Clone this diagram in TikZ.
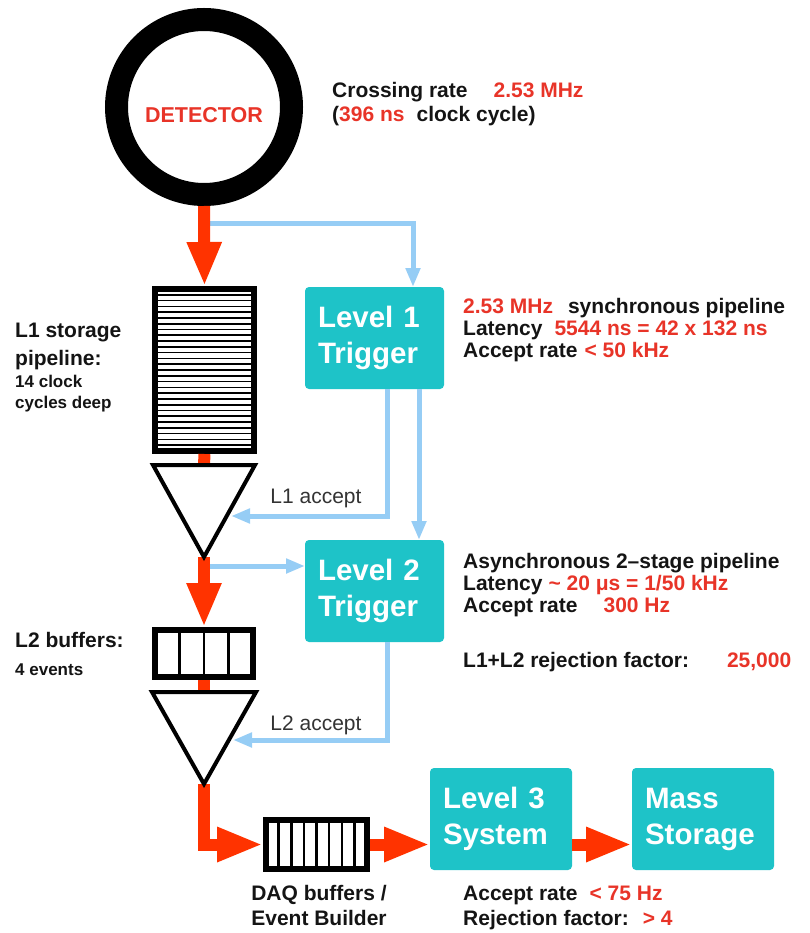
\documentclass[tikz,border=0pt]{standalone}
\usepackage{fontspec}
\setmainfont{Liberation Sans}
\usetikzlibrary{arrows.meta,calc}
\definecolor{arrowred}{RGB}{255,51,0}
\definecolor{txtred}{RGB}{232,52,40}
\definecolor{trigteal}{RGB}{30,195,200}
\definecolor{sigblue}{RGB}{150,205,245}
\definecolor{ink}{RGB}{20,20,20}
\newcommand\rd[1]{\textcolor{txtred}{#1}}

\begin{document}
\begin{tikzpicture}[x=1pt,y=-1pt,
  redline/.style={draw=arrowred,line width=12pt},
  redarrow/.style={redline,-{Triangle[width=32pt,length=44pt]}},
  redarrowh/.style={redline,-{Triangle[width=32pt,length=46pt]}},
  bluearrow/.style={draw=sigblue,line width=5pt,-{Triangle[width=14pt,length=19pt]}},
  trig/.style={fill=trigteal,rounded corners=4pt,text=white,inner xsep=13pt,inner ysep=0pt,
    outer sep=0pt,align=left,font=\bfseries\fontsize{29.5}{36}\selectfont,anchor=north west},
  bufbox/.style={draw=black,line width=6pt,inner sep=0pt,fill=white},
  cell/.style={draw=black,line width=2.5pt},
  slot/.style={draw=black,line width=1.6pt},
  funnel/.style={draw=black,line width=4pt,line join=miter,fill=white},
  info/.style={font=\bfseries\fontsize{21}{23}\selectfont,text=ink,anchor=base west,inner sep=0pt},
  small/.style={font=\bfseries\fontsize{17}{21}\selectfont,text=ink,anchor=base west,inner sep=0pt},
  acc/.style={font=\fontsize{21}{23}\selectfont,text=black!80,anchor=base,inner sep=0pt},
]
\useasboundingbox (0,0) rectangle (809,933);

% ---- detector ring ----
\node[circle,draw=black,line width=23pt,minimum size=175pt,inner sep=0pt] (det) at (204,107) {};
\node[font=\bfseries\fontsize{21.5}{24}\selectfont,text=txtred,inner sep=0pt] (detlbl) at (204,115) {DETECTOR};

% ---- storage elements ----
\node[bufbox,minimum width=99pt,minimum height=162pt] (pipe) at (204.5,370) {};
\foreach \i in {1,...,27}
  \draw[slot] (155,{289+\i*162/28}) -- (254,{289+\i*162/28});

\node[bufbox,minimum width=98pt,minimum height=47pt] (l2buf) at (204,653.5) {};
\foreach \i in {1,2,3}
  \draw[cell] ({155+\i*24.5},630) -- ({155+\i*24.5},677);

\node[bufbox,minimum width=101pt,minimum height=49pt] (daq) at (316.5,844.5) {};
\foreach \i in {1,...,7}
  \draw[cell] ({266+\i*101/8},820) -- ({266+\i*101/8},869);

% ---- trigger and processing boxes ----
\node[trig,text width=113pt,minimum height=102pt] (l1) at (305,287) {Level 1\\Trigger};
\node[trig,text width=113pt,minimum height=102pt] (l2) at (305,540) {Level 2\\Trigger};
\node[trig,text width=116pt,minimum height=102pt] (l3) at (430,768) {Level 3\\System};
\node[trig,text width=116pt,minimum height=102pt] (ms) at (632,768) {Mass\\Storage};

% ---- trigger signal paths ----
\coordinate (split1) at (204,224);
\coordinate (split2) at (204,566);
\coordinate (acc1) at (231,516);
\coordinate (acc2) at (233,740);
\draw[bluearrow] (split1) -| ([xshift=38.5pt]l1.north);
\draw[bluearrow] ([xshift=12.5pt]l1.south) |- (acc1);
\draw[bluearrow] ([xshift=44.5pt]l1.south) -- ([xshift=44.5pt]l2.north);
\draw[bluearrow] (split2) -- (split2 -| l2.west);
\draw[bluearrow] ([xshift=12.5pt]l2.south) |- (acc2);

% ---- data flow ----
\coordinate (t1top) at (204,465);
\coordinate (t1apex) at (204,557);
\coordinate (t2top) at (204,692);
\coordinate (t2apex) at (204,784);
\draw[redarrow] (det.south) -- (pipe.north);
\draw[redline] (pipe.south) -- (t1top);
\draw[redarrow] (t1apex) -- (l2buf.north);
\draw[redline] (l2buf.south) -- (t2top);
\draw[redarrowh,line join=miter] (t2apex) |- (daq.west);
\draw[redarrowh] (daq.east) -- (daq.east -| l3.west);
\draw[redarrowh] (daq.east -| l3.east) -- (daq.east -| ms.west);

% ---- accept gates ----
\draw[funnel] (153,465) -- (255,465) -- (t1apex) -- cycle;
\draw[funnel] (152,692) -- (256,692) -- (t2apex) -- cycle;
\node[acc] (l1acc) at (316,503) {L1 accept};
\node[acc] (l2acc) at (316,730) {L2 accept};

% ---- annotations ----
\node[info] (xing1) at (332,98) {Crossing rate\hspace{26pt}\rd{2.53 MHz}};
\node[info] (xing2) at (332,122) {(\rd{396 ns}\hspace{12pt}clock cycle)};

\node[info] (l1i1) at (463,313) {\rd{2.53 MHz}\hspace{15pt}synchronous pipeline};
\node[info] (l1i2) at (463,335) {Latency\hspace{12pt}\rd{5544 ns = 42 x 132 ns}};
\node[info] (l1i3) at (463,357) {Accept rate\hspace{7pt}\rd{< 50 kHz}};

\node[info] (l2i1) at (463,568) {Asynchronous 2–stage pipeline};
\node[info] (l2i2) at (463,590) {Latency\hspace{6pt}\rd{\textasciitilde\ 20 μs = 1/50 kHz}};
\node[info] (l2i3) at (463,612) {Accept rate\hspace{26pt}\rd{300 Hz}};
\node[info] (rej) at (463,667) {L1+L2 rejection factor:\hspace{38pt}\rd{25,000}};

\node[info] (l1st1) at (15,337) {L1 storage};
\node[info] (l1st2) at (15,365) {pipeline:};
\node[small] (l1st3) at (15,387) {14 clock};
\node[small] (l1st4) at (15,408) {cycles deep};

\node[info] (l2b1) at (15,647) {L2 buffers:};
\node[small] (l2b2) at (15,675) {4 events};

\node[info,anchor=base] (daq1) at (319,900) {DAQ buffers /};
\node[info,anchor=base] (daq2) at (319,925) {Event Builder};
\node[info] (l3i1) at (463,900) {Accept rate\hspace{12pt}\rd{< 75 Hz}};
\node[info] (l3i2) at (463,925) {Rejection factor:\hspace{14pt}\rd{> 4}};
\end{tikzpicture}
\end{document}
